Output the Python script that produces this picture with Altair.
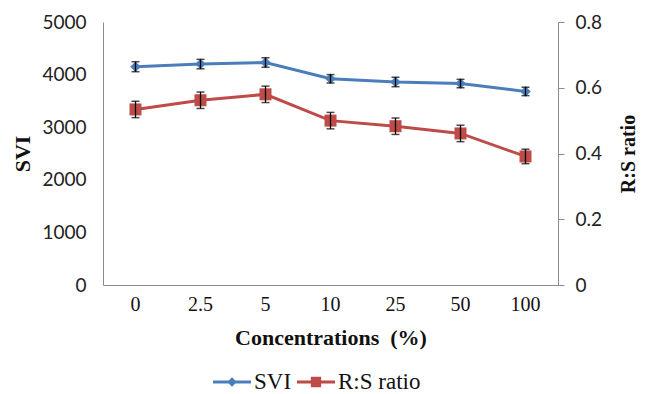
import altair as alt
import pandas as pd

# Concentration levels (categorical x axis)
conc = ["0", "2.5", "5", "10", "25", "50", "100"]

# Seedling vigour index with standard errors
svi = [4150, 4200, 4230, 3920, 3860, 3830, 3680]
svi_err = [95, 90, 90, 80, 90, 80, 80]

# Root:shoot ratio with standard errors
rs = [0.534, 0.562, 0.580, 0.500, 0.483, 0.461, 0.391]
rs_err = [0.025, 0.025, 0.025, 0.025, 0.025, 0.025, 0.022]

series_names = ["SVI", "R:S ratio"]
series_colors = ["#4A7EBB", "#BE4B48"]
# legend glyphs: a line segment with the series marker in the middle
legend_shapes = [
    "M-1,-0.08H1V0.08H-1Z M0,-0.25L0.25,0L0,0.25L-0.25,0Z",
    "M-1,-0.08H1V0.08H-1Z M-0.27,-0.27H0.27V0.27H-0.27Z",
]

svi_df = pd.DataFrame({
    "conc": conc,
    "v": svi,
    "lo": [a - e for a, e in zip(svi, svi_err)],
    "hi": [a + e for a, e in zip(svi, svi_err)],
})
rs_df = pd.DataFrame({
    "conc": conc,
    "v": rs,
    "lo": [a - e for a, e in zip(rs, rs_err)],
    "hi": [a + e for a, e in zip(rs, rs_err)],
})
long_df = pd.DataFrame({
    "conc": conc + conc,
    "series": ["SVI"] * len(conc) + ["R:S ratio"] * len(conc),
    "v": svi + rs,
})

SERIF = "Liberation Serif"
SANS = "Lato"
PLOT_W, PLOT_H = 455, 263

x_enc = alt.X(
    "conc:N",
    sort=conc,
    title="Concentrations\u00a0\u00a0(%)",
    axis=alt.Axis(
        labelAngle=0,
        ticks=False,
        grid=False,
        domainColor="#8c8c8c",
        labelFont=SERIF,
        labelFontSize=20,
        labelColor="#111",
        labelPadding=9,
        titleFont=SERIF,
        titleFontSize=22,
        titleFontWeight="bold",
        titleColor="#111",
        titlePadding=13,
    ),
)

left_scale = alt.Scale(domain=[0, 5000], nice=False, zero=True)
right_scale = alt.Scale(domain=[0, 0.8], nice=False, zero=True)

left_axis = alt.Axis(
    values=[0, 1000, 2000, 3000, 4000, 5000],
    format="d",
    ticks=False,
    grid=False,
    domainColor="#8c8c8c",
    labelFont=SANS,
    labelFontSize=19,
    labelColor="#222",
    labelPadding=17,
    titleFont=SERIF,
    titleFontSize=22,
    titleFontWeight="bold",
    titleColor="#111",
    titleAngle=270,
    titleAlign="center",
    titleBaseline="middle",
    titleX=-81,
    titleY=PLOT_H / 2,
)

right_axis = alt.Axis(
    values=[0, 0.2, 0.4, 0.6, 0.8],
    format="~g",
    orient="right",
    ticks=True,
    tickSize=6,
    tickColor="#8c8c8c",
    grid=False,
    domainColor="#8c8c8c",
    labelFont=SANS,
    labelFontSize=19,
    labelColor="#222",
    labelPadding=11,
    titleFont=SERIF,
    titleFontSize=20,
    titleFontWeight="bold",
    titleColor="#111",
    titleAngle=270,
    titleAlign="center",
    titleBaseline="middle",
    titleX=70,
    titleY=PLOT_H / 2,
)


def series_layer(df, color, shape, msize, scale, axis, title):
    base = alt.Chart(df)

    def yq(field):
        return alt.Y(field, type="quantitative", scale=scale, axis=axis, title=title)

    line = base.mark_line(color=color, strokeWidth=3).encode(x=x_enc, y=yq("v"))
    pts = base.mark_point(filled=True, shape=shape, size=msize, color=color, opacity=1).encode(
        x=x_enc, y=yq("v")
    )
    bars = base.mark_rule(color="black", strokeWidth=1.3).encode(
        x=x_enc, y=yq("lo"), y2="hi:Q"
    )
    cap_lo = base.mark_tick(color="black", size=8, thickness=1.5).encode(x=x_enc, y=yq("lo"))
    cap_hi = base.mark_tick(color="black", size=8, thickness=1.5).encode(x=x_enc, y=yq("hi"))
    return [line, pts, bars, cap_lo, cap_hi]


left_layers = series_layer(svi_df, series_colors[0], "diamond", 110, left_scale, left_axis, "SVI")

legend_opts = dict(
    title=None,
    orient="none",
    legendX=110,
    legendY=341,
    direction="horizontal",
    symbolSize=1444,
    symbolStrokeWidth=0,
    symbolOpacity=1,
    labelFont=SERIF,
    labelFontSize=23,
    labelColor="#111",
    labelOffset=3,
    columnPadding=5,
)

# invisible points that only carry the legend
legend_layer = alt.Chart(long_df).mark_point(filled=True, opacity=0).encode(
    x=x_enc,
    y=alt.Y("v:Q", scale=left_scale, axis=left_axis, title="SVI"),
    color=alt.Color(
        "series:N",
        scale=alt.Scale(domain=series_names, range=series_colors),
        legend=alt.Legend(**legend_opts),
    ),
    shape=alt.Shape(
        "series:N",
        scale=alt.Scale(domain=series_names, range=legend_shapes),
        legend=alt.Legend(**legend_opts),
    ),
)

right_layers = series_layer(rs_df, series_colors[1], "square", 144, right_scale, right_axis, "R:S ratio")

left = alt.layer(*left_layers, legend_layer)
right = alt.layer(*right_layers)

chart = (
    alt.layer(left, right)
    .resolve_scale(y="independent")
    .properties(
        width=PLOT_W,
        height=PLOT_H,
        autosize="none",
        padding={"left": 103, "top": 22, "right": 88, "bottom": 109},
        background="white",
    )
    .configure_view(stroke=None)
    .configure_legend(labelFont=SERIF, labelFontSize=23, labelColor="#111")
)

chart.save("out.html", embed_options={"renderer": "svg", "actions": False})
